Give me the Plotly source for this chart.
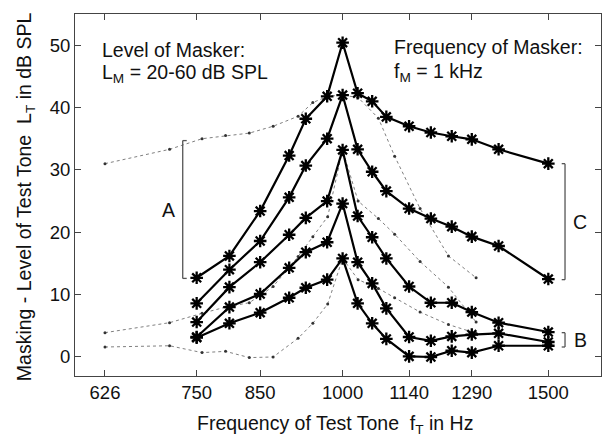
import plotly.graph_objects as go

# Test-tone frequencies (Hz) of the measured masking curves
freqs = [750, 800, 850, 900, 930, 970, 1000, 1030, 1060, 1090, 1140, 1190, 1240, 1290, 1360, 1500]
# Masked threshold of test tone (dB SPL) for masker levels 60..20 dB SPL
L60 = [12.7, 16.2, 23.4, 32.3, 38.2, 41.8, 50.4, 42.3, 41.0, 38.5, 37.0, 36.0, 35.4, 34.9, 33.3, 31.0]
L50 = [8.6, 14.0, 18.6, 25.6, 30.7, 35.0, 42.0, 33.3, 29.7, 26.6, 23.8, 22.2, 20.9, 19.3, 17.8, 12.5]
L40 = [5.6, 11.2, 15.2, 19.6, 22.3, 25.0, 33.2, 22.6, 19.2, 15.8, 11.3, 8.7, 8.7, 7.2, 5.5, 4.0]
L30 = [3.2, 8.0, 10.1, 14.3, 16.8, 18.4, 24.6, 15.2, 11.8, 7.8, 3.2, 2.6, 3.3, 3.6, 3.8, 2.4]
L20 = [3.1, 5.4, 7.1, 9.5, 11.1, 12.4, 15.8, 8.6, 5.4, 2.9, 0.1, 0.0, 1.0, 0.7, 1.8, 1.8]

# Comparison curves (thin dotted)
dot_freqs = [626, 711, 758, 794, 832, 872, 916, 943, 971, 1000, 1031, 1073, 1108, 1165, 1232, 1301]
D60 = [31.0, 33.3, 35.0, 35.5, 35.9, 37.0, 38.6, 40.8, 41.8, 42.0, 41.6, 38.3, 32.2, 23.8, 16.2, 12.7]
D40 = [3.9, 5.5, 7.0, 8.0, 8.7, 11.3, 16.1, 19.3, 22.5, 33.2, 25.0, 22.2, 19.7, 15.3, 11.2, 5.6]
D20 = [1.6, 1.8, 0.7, 0.9, -0.1, 0.0, 3.0, 5.4, 8.5, 15.8, 12.4, 11.0, 9.5, 7.2, 5.2, 3.8]

x_ticks = [626, 750, 850, 1000, 1140, 1290, 1500]
y_ticks = [0, 10, 20, 30, 40, 50]

# Bracket ranges (dB)
bracket_A = (12.6, 34.7)
bracket_C = (12.4, 31.0)
bracket_B = (1.6, 3.9)

FONT = "Liberation Sans, Arial, sans-serif"

fig = go.Figure()

for d in [D60, D40, D20]:
    fig.add_trace(go.Scatter(
        x=dot_freqs, y=d, mode="lines+markers",
        line=dict(color="#808080", width=1, dash="dot"),
        marker=dict(size=3, color="#333333"),
        showlegend=False, hoverinfo="skip"))

for s in [L60, L50, L40, L30, L20]:
    fig.add_trace(go.Scatter(
        x=freqs, y=s, mode="lines+markers",
        line=dict(color="black", width=2.2),
        marker=dict(symbol="asterisk-open", size=10.5,
                    line=dict(color="black", width=2.3)),
        showlegend=False, hoverinfo="skip"))

shapes = []
def bracket(xv, xt, lo, hi):
    shapes.append(dict(type="line", xref="paper", yref="y", x0=xv, x1=xv, y0=lo, y1=hi,
                       line=dict(color="#555555", width=1.3)))
    for yy in (lo, hi):
        shapes.append(dict(type="line", xref="paper", yref="y", x0=xv, x1=xt, y0=yy, y1=yy,
                           line=dict(color="#555555", width=1.3)))

bracket(0.2048, 0.2124, *bracket_A)
bracket(0.9316, 0.9253, *bracket_C)
bracket(0.9316, 0.9253, *bracket_B)

ann_font = dict(family=FONT, size=19.5, color="#111111")
annotations = [
    dict(text="Level of Masker:", x=0.0475, y=0.900, xref="paper", yref="paper",
         xanchor="left", yanchor="middle", showarrow=False, font=ann_font),
    dict(text="L<sub>M</sub> = 20-60 dB SPL", x=0.0475, y=0.835, xref="paper", yref="paper",
         xanchor="left", yanchor="middle", showarrow=False, font=ann_font),
    dict(text="Frequency of Masker:", x=0.602, y=0.909, xref="paper", yref="paper",
         xanchor="left", yanchor="middle", showarrow=False, font=ann_font),
    dict(text="f<sub>M</sub> = 1 kHz", x=0.602, y=0.838, xref="paper", yref="paper",
         xanchor="left", yanchor="middle", showarrow=False, font=ann_font),
    dict(text="A", x=0.1774, y=(bracket_A[0] + bracket_A[1]) / 2, xref="paper", yref="y",
         xanchor="center", yanchor="middle", showarrow=False, font=ann_font),
    dict(text="C", x=0.9601, y=(bracket_C[0] + bracket_C[1]) / 2, xref="paper", yref="y",
         xanchor="center", yanchor="middle", showarrow=False, font=ann_font),
    dict(text="B", x=0.9601, y=(bracket_B[0] + bracket_B[1]) / 2, xref="paper", yref="y",
         xanchor="center", yanchor="middle", showarrow=False, font=ann_font),
    dict(text="Frequency of Test Tone  f<sub>T</sub> in Hz", x=0.494, y=-0.135,
         xref="paper", yref="paper", xanchor="center", yanchor="middle",
         showarrow=False, font=ann_font),
    dict(text="Masking - Level of Test Tone  L<sub>T</sub> in dB SPL", x=-0.095, y=0.494,
         xref="paper", yref="paper", xanchor="center", yanchor="middle", textangle=-90,
         showarrow=False, font=ann_font),
]

axis_common = dict(showline=True, linecolor="#444444", linewidth=1, mirror="allticks",
                   ticks="inside", ticklen=6, tickcolor="#444444", tickwidth=1,
                   showgrid=False, zeroline=False,
                   tickfont=dict(family=FONT, size=18.5, color="#111111"))

fig.update_layout(
    width=603, height=439,
    margin=dict(l=75, r=2, t=14, b=63),
    paper_bgcolor="white", plot_bgcolor="white",
    xaxis=dict(type="log", range=[2.7709, 3.2212], tickvals=x_ticks,
               ticktext=[str(v) for v in x_ticks], **axis_common),
    yaxis=dict(range=[-3.05, 55.0], tickvals=y_ticks, **axis_common),
    shapes=shapes, annotations=annotations, showlegend=False,
)

fig.write_html("out.html")
